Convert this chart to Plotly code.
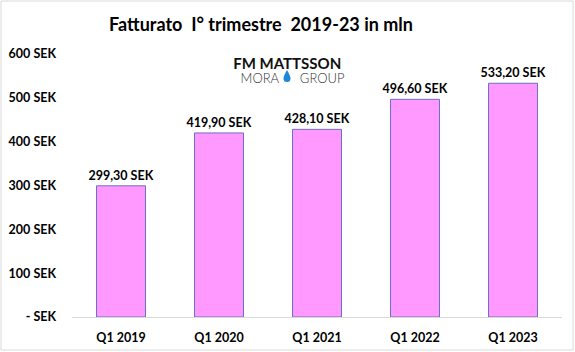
import plotly.graph_objects as go

categories = ["Q1 2019", "Q1 2020", "Q1 2021", "Q1 2022", "Q1 2023"]
values = [299.30, 419.90, 428.10, 496.60, 533.20]
tick_values = [0, 100, 200, 300, 400, 500, 600]

def sek(v, dec=2):
    if v == 0:
        return "- SEK"
    s = f"{v:.{dec}f}".replace(".", ",")
    return f"{s} SEK"

tick_text = [sek(v, 0) for v in tick_values]
bar_text = [sek(v) for v in values]

FONT = "Lato"

fig = go.Figure()
fig.add_trace(go.Bar(
    x=categories, y=values, text=bar_text, textposition="outside", constraintext="none",
    textfont=dict(family=FONT, size=12.5, color="#000000", weight="bold"),
    marker=dict(color="#FF99FF", line=dict(color="#6E6EC8", width=1)),
    cliponaxis=False, hoverinfo="skip",
))

L, R, T, B = 72, 13, 54, 35
W, H = 575, 352
pw, ph = W - L - R, H - T - B

def px(x):
    return (x - L) / pw

def py(y):
    return (H - B - y) / ph

fig.update_layout(
    width=W, height=H,
    margin=dict(l=L, r=R, t=T, b=B),
    paper_bgcolor="white", plot_bgcolor="white",
    bargap=0.5, showlegend=False,
    title=dict(text="Fatturato\u00a0 I° trimestre\u00a0 2019-23 in mln",
               x=261 / W, xanchor="center", y=1 - 25 / H, yanchor="middle",
               font=dict(family=FONT, size=18, color="#000000", weight="bold")),
    xaxis=dict(showline=True, linecolor="#D9D9D9", linewidth=1, ticks="",
               showgrid=False, ticklabelstandoff=9, automargin=False,
               tickfont=dict(family=FONT, size=12.5, color="#000000", weight="bold")),
    yaxis=dict(range=[0, 600], tickvals=tick_values, ticktext=tick_text, showgrid=False,
               zeroline=False, showline=False, ticks="", ticklabelstandoff=15, automargin=False,
               tickfont=dict(family=FONT, size=12.5, color="#000000", weight="bold")),
)

# border
fig.add_shape(type="rect", xref="paper", yref="paper",
              x0=px(1), x1=px(573), y0=py(350), y1=py(1),
              line=dict(color="#D9D9D9", width=1), fillcolor="rgba(0,0,0,0)")

# logo (two lines in one text)
logo = ("<span style='font-size:15px;font-weight:bold;color:#111111'>FM MATTSSON</span><br>"
        "<span style='font-size:13px;font-weight:300;color:#333333'>\u00a0\u00a0\u00a0MORA\u00a0\u00a0\u00a0\u00a0\u00a0\u00a0GROUP</span>")
fig.add_annotation(xref="paper", yref="paper", x=px(287), y=py(69.5), xanchor="center", yanchor="middle",
                   text=logo, showarrow=False, borderpad=0,
                   font=dict(family=FONT, size=11, color="#333333"))
fig.add_shape(type="path", xref="paper", yref="paper",
              path=f"M {px(287)} {py(70)} Q {px(283.5)} {py(76)} {px(283.5)} {py(78.5)} "
                   f"Q {px(283.5)} {py(82)} {px(287)} {py(82)} Q {px(290.5)} {py(82)} {px(290.5)} {py(78.5)} "
                   f"Q {px(290.5)} {py(76)} {px(287)} {py(70)} Z",
              fillcolor="#1E88D8", line=dict(width=0))

fig.write_html("out.html")
